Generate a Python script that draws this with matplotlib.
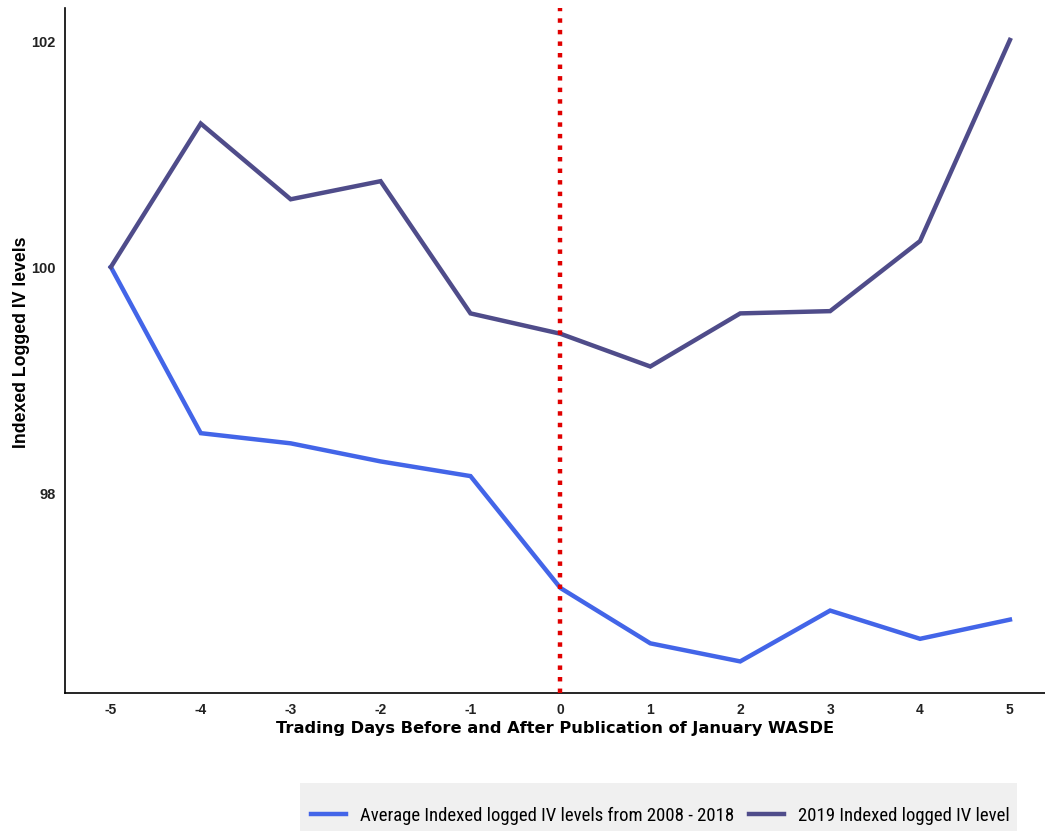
import matplotlib
matplotlib.use("Agg")
import matplotlib.pyplot as plt
from matplotlib import font_manager
from matplotlib.patches import Rectangle

days = [-5, -4, -3, -2, -1, 0, 1, 2, 3, 4, 5]
avg_2008_2018 = [100.0, 98.53, 98.44, 98.28, 98.15, 97.16, 96.67, 96.51, 96.96, 96.71, 96.88]
iv_2019 = [100.0, 101.27, 100.60, 100.76, 99.59, 99.41, 99.12, 99.59, 99.61, 100.23, 102.01]
yticks = [98, 100, 102]
labels = ["Average Indexed logged IV levels from 2008 - 2018", "2019 Indexed logged IV level"]

names = sorted({f.name for f in font_manager.fontManager.ttflist})
narrow = None
for cand in ["Liberation Sans Narrow", "DejaVu Sans Condensed", "Roboto Condensed", "Open Sans Condensed"]:
    if cand in names:
        narrow = cand
        break
if narrow is None:
    for n in names:
        if "Narrow" in n or "Condensed" in n:
            narrow = n
            break
if narrow is None:
    narrow = "Liberation Sans"

W, H = 1045, 831
fig = plt.figure(figsize=(W / 100, H / 100), dpi=100)
ax = fig.add_axes([0.0622, 0.166, 0.9378, 0.824])

l1, = ax.plot(days, avg_2008_2018, color="#4365e8", lw=3.2, solid_joinstyle="miter")
l2, = ax.plot(days, iv_2019, color="#4f4c8a", lw=3.2, solid_joinstyle="miter")
ax.axvline(0, color="#e00000", lw=3.2, linestyle=(0, (1, 1.6)), zorder=3)

ax.set_xlim(-5.51, 5.39)
ax.set_ylim(96.23, 102.29)
ax.set_xticks(days)
ax.set_xticklabels([str(d) for d in days])
ax.set_yticks(yticks)
for s in ["top", "right"]:
    ax.spines[s].set_visible(False)
for s in ["left", "bottom"]:
    ax.spines[s].set_linewidth(1.2)
ax.tick_params(axis="x", length=0, pad=7, labelsize=10)
ax.tick_params(axis="y", length=0, pad=7, labelsize=10.5)
for t in ax.get_xticklabels() + ax.get_yticklabels():
    t.set_fontfamily("Liberation Sans")
    t.set_fontweight("bold")
    t.set_color("#222222")
ax.set_xlabel("Trading Days Before and After Publication of January WASDE",
              fontsize=11.7, fontweight="bold", labelpad=3, family="DejaVu Sans")
ax.set_ylabel("Indexed Logged IV levels", fontsize=12.7, fontweight="bold",
              family="Liberation Sans")
ax.yaxis.set_label_coords(-0.036, 0.512)

# grey legend background
fig.add_artist(Rectangle((300 / W, 0), (1017 - 300) / W, (831 - 783) / H,
                         transform=fig.transFigure, facecolor="#f0f0f0",
                         edgecolor="none", zorder=0))
leg = fig.legend([l1, l2], labels, loc="center", bbox_to_anchor=(660.5 / W, 15.5 / H),
                 ncol=2, frameon=False,
                 prop={"family": narrow, "size": 13.5},
                 handlelength=1.87, borderpad=0.0, borderaxespad=0.0,
                 columnspacing=0.8, handletextpad=0.75)

fig.savefig("out.png", dpi=100)
